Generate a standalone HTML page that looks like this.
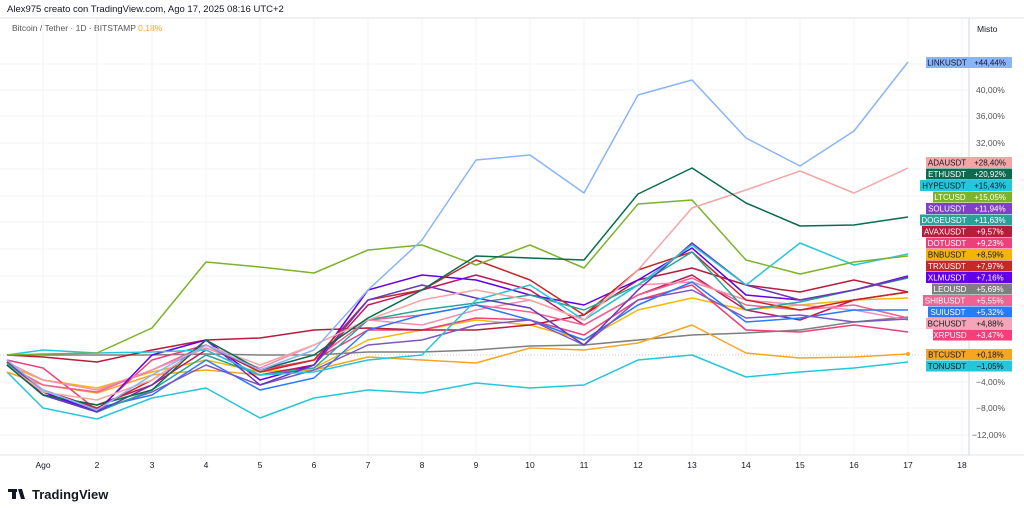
<!DOCTYPE html>
<html><head><meta charset="utf-8"><style>
body{margin:0;background:#fff;font-family:"Liberation Sans",sans-serif;}
svg text{font-family:"Liberation Sans",sans-serif;}
</style></head><body>
<svg width="1024" height="514" xmlns="http://www.w3.org/2000/svg">
<rect width="1024" height="514" fill="#fff"/>
<text x="7" y="12" font-size="9.5" fill="#131722">Alex975 creato con TradingView.com, Ago 17, 2025 08:16 UTC+2</text>
<text x="12" y="31" font-size="8.5" fill="#555">Bitcoin / Tether · 1D · BITSTAMP <tspan fill="#f5a623">0,18%</tspan></text>
<g stroke="#f0f3f7" stroke-width="1">
<line x1="43" y1="18" x2="43" y2="455"/><line x1="97" y1="18" x2="97" y2="455"/><line x1="152" y1="18" x2="152" y2="455"/><line x1="206" y1="18" x2="206" y2="455"/><line x1="260" y1="18" x2="260" y2="455"/><line x1="314" y1="18" x2="314" y2="455"/><line x1="368" y1="18" x2="368" y2="455"/><line x1="422" y1="18" x2="422" y2="455"/><line x1="476" y1="18" x2="476" y2="455"/><line x1="530" y1="18" x2="530" y2="455"/><line x1="584" y1="18" x2="584" y2="455"/><line x1="638" y1="18" x2="638" y2="455"/><line x1="692" y1="18" x2="692" y2="455"/><line x1="746" y1="18" x2="746" y2="455"/><line x1="800" y1="18" x2="800" y2="455"/><line x1="854" y1="18" x2="854" y2="455"/><line x1="908" y1="18" x2="908" y2="455"/><line x1="962" y1="18" x2="962" y2="455"/>
<line x1="0" y1="64" x2="969" y2="64"/><line x1="0" y1="90" x2="969" y2="90"/><line x1="0" y1="116" x2="969" y2="116"/><line x1="0" y1="143" x2="969" y2="143"/><line x1="0" y1="169" x2="969" y2="169"/><line x1="0" y1="196" x2="969" y2="196"/><line x1="0" y1="222" x2="969" y2="222"/><line x1="0" y1="249" x2="969" y2="249"/><line x1="0" y1="276" x2="969" y2="276"/><line x1="0" y1="302" x2="969" y2="302"/><line x1="0" y1="329" x2="969" y2="329"/><line x1="0" y1="382" x2="969" y2="382"/><line x1="0" y1="408" x2="969" y2="408"/><line x1="0" y1="435" x2="969" y2="435"/>
</g>
<line x1="0" y1="355" x2="969" y2="355" stroke="#ccc" stroke-width="1" stroke-dasharray="1,2"/>
<line x1="969" y1="18" x2="969" y2="455" stroke="#d1d4dc"/>
<line x1="0" y1="455" x2="1024" y2="455" stroke="#e0e3eb"/>
<line x1="0" y1="18" x2="1024" y2="18" stroke="#e0e3eb"/>
<text x="977" y="32" font-size="8.5" fill="#131722">Misto</text>
<g font-size="8.5" fill="#555">
<text x="976" y="93">40,00%</text><text x="976" y="119">36,00%</text><text x="976" y="146">32,00%</text><text x="976" y="385">−4,00%</text><text x="976" y="411">−8,00%</text><text x="972" y="438">−12,00%</text>
</g>
<g font-size="8.5" fill="#131722" text-anchor="middle">
<text x="43" y="468">Ago</text><text x="97" y="468">2</text><text x="152" y="468">3</text><text x="206" y="468">4</text><text x="260" y="468">5</text><text x="314" y="468">6</text><text x="368" y="468">7</text><text x="422" y="468">8</text><text x="476" y="468">9</text><text x="530" y="468">10</text><text x="584" y="468">11</text><text x="638" y="468">12</text><text x="692" y="468">13</text><text x="746" y="468">14</text><text x="800" y="468">15</text><text x="854" y="468">16</text><text x="908" y="468">17</text><text x="962" y="468">18</text>
</g>
<g fill="none" stroke-width="1.5" stroke-linejoin="round">
<polyline stroke="#26c6da" points="7,372 43,408 97,419 152,398 206,388 260,418 314,398 368,390 422,393 476,383 530,388 584,385 638,360 692,355 746,377 800,372 854,368 908,362"/>
<polyline stroke="#7f7f7f" points="7,355 43,355 97,355 152,355 206,354 260,355 314,355 368,352 422,352 476,350 530,346 584,345 638,340 692,335 746,333 800,330 854,322 908,317"/>
<polyline stroke="#f5a623" points="7,372 43,385 97,393 152,375 206,370 260,375 314,370 368,357 422,360 476,363 530,348 584,350 638,343 692,325 746,353 800,358 854,357 908,354"/>
<polyline stroke="#f0b90b" points="7,365 43,380 97,388 152,372 206,360 260,372 314,368 368,340 422,330 476,320 530,325 584,340 638,310 692,298 746,310 800,305 854,300 908,298"/>
<polyline stroke="#ec407a" points="7,360 43,368 97,410 152,360 206,345 260,370 314,360 368,330 422,330 476,318 530,320 584,335 638,300 692,285 746,330 800,332 854,325 908,332"/>
<polyline stroke="#b71c3a" points="7,355 43,357 97,362 152,350 206,340 260,338 314,330 368,328 422,330 476,330 530,325 584,315 638,280 692,268 746,285 800,292 854,280 908,292"/>
<polyline stroke="#c2185b" points="7,365 43,395 97,405 152,385 206,350 260,375 314,365 368,305 422,290 476,275 530,290 584,325 638,295 692,275 746,310 800,320 854,300 908,292"/>
<polyline stroke="#f06292" points="7,365 43,385 97,392 152,370 206,345 260,372 314,360 368,320 422,315 476,305 530,312 584,325 638,295 692,278 746,305 800,310 854,305 908,318"/>
<polyline stroke="#f48fb1" points="7,362 43,380 97,390 152,370 206,348 260,368 314,345 368,320 422,325 476,310 530,300 584,320 638,285 692,282 746,300 800,305 854,310 908,320"/>
<polyline stroke="#2979ff" points="7,362 43,395 97,408 152,395 206,360 260,390 314,378 368,330 422,315 476,305 530,320 584,340 638,305 692,282 746,322 800,318 854,310 908,310"/>
<polyline stroke="#7e57c2" points="7,365 43,395 97,410 152,392 206,365 260,385 314,370 368,345 422,340 476,325 530,320 584,345 638,300 692,290 746,318 800,315 854,322 908,319"/>
<polyline stroke="#6200ea" points="7,365 43,392 97,412 152,355 206,340 260,380 314,365 368,290 422,275 476,280 530,295 584,305 638,280 692,248 746,295 800,300 854,290 908,276"/>
<polyline stroke="#c62828" points="7,362 43,390 97,408 152,380 206,345 260,372 314,360 368,300 422,290 476,260 530,280 584,315 638,270 692,252 746,300 800,310 854,300 908,292"/>
<polyline stroke="#26a69a" points="7,363 43,395 97,412 152,390 206,355 260,375 314,368 368,320 422,310 476,303 530,295 584,310 638,285 692,252 746,310 800,302 854,290 908,278"/>
<polyline stroke="#673ab7" points="7,360 43,395 97,412 152,385 206,340 260,385 314,365 368,300 422,285 476,298 530,308 584,345 638,290 692,243 746,285 800,300 854,290 908,277"/>
<polyline stroke="#26c6da" points="7,355 43,350 97,353 152,352 206,350 260,375 314,372 368,360 422,355 476,300 530,285 584,320 638,285 692,245 746,285 800,243 854,265 908,254"/>
<polyline stroke="#7cb32a" points="7,355 43,354 97,353 152,328 206,262 260,267 314,273 368,250 422,245 476,265 530,245 584,268 638,204 692,200 746,260 800,274 854,262 908,256"/>
<polyline stroke="#f4a6a6" points="7,365 43,392 97,400 152,380 206,345 260,365 314,345 368,320 422,300 476,290 530,300 584,320 638,270 692,208 746,190 800,171 854,193 908,168"/>
<polyline stroke="#0b6b4f" points="7,365 43,395 97,405 152,390 206,340 260,370 314,355 368,318 422,290 476,256 530,258 584,260 638,194 692,168 746,203 800,226 854,225 908,217"/>
<polyline stroke="#8ab4f8" points="7,360 43,390 97,410 152,375 206,345 260,370 314,350 368,290 422,240 476,160 530,155 584,193 638,95 692,80 746,138 800,166 854,131 908,62"/>
</g>
<circle cx="908" cy="354" r="2" fill="#f5a623"/>
<g font-size="8" text-anchor="middle">
<g><rect x="926" y="57" width="42" height="11" fill="#8ab4f8"/><rect x="968" y="57" width="44" height="11" fill="#8ab4f8"/><text x="947" y="65.5" fill="#131722">LINKUSDT</text><text x="990" y="65.5" fill="#131722">+44,44%</text></g>
<g><rect x="926" y="157" width="42" height="11" fill="#f4a6a6"/><rect x="968" y="157" width="44" height="11" fill="#f4a6a6"/><text x="947" y="165.5" fill="#131722">ADAUSDT</text><text x="990" y="165.5" fill="#131722">+28,40%</text></g>
<g><rect x="926" y="168.5" width="42" height="11" fill="#0b6b4f"/><rect x="968" y="168.5" width="44" height="11" fill="#0b6b4f"/><text x="947" y="177" fill="#fff">ETHUSDT</text><text x="990" y="177" fill="#fff">+20,92%</text></g>
<g><rect x="920" y="180" width="48" height="11" fill="#26c6da"/><rect x="968" y="180" width="44" height="11" fill="#26c6da"/><text x="944" y="188.5" fill="#131722">HYPEUSDT</text><text x="990" y="188.5" fill="#131722">+15,43%</text></g>
<g><rect x="933" y="191.5" width="35" height="11" fill="#7cb32a"/><rect x="968" y="191.5" width="44" height="11" fill="#7cb32a"/><text x="950" y="200" fill="#fff">LTCUSD</text><text x="990" y="200" fill="#fff">+15,05%</text></g>
<g><rect x="926" y="203" width="42" height="11" fill="#7e3fc9"/><rect x="968" y="203" width="44" height="11" fill="#7e3fc9"/><text x="947" y="211.5" fill="#fff">SOLUSDT</text><text x="990" y="211.5" fill="#fff">+11,94%</text></g>
<g><rect x="920" y="214.5" width="48" height="11" fill="#2aa198"/><rect x="968" y="214.5" width="44" height="11" fill="#2aa198"/><text x="944" y="223" fill="#fff">DOGEUSDT</text><text x="990" y="223" fill="#fff">+11,63%</text></g>
<g><rect x="922" y="226" width="46" height="11" fill="#b71c3a"/><rect x="968" y="226" width="44" height="11" fill="#b71c3a"/><text x="945" y="234.5" fill="#fff">AVAXUSDT</text><text x="990" y="234.5" fill="#fff">+9,57%</text></g>
<g><rect x="926" y="237.5" width="42" height="11" fill="#ec407a"/><rect x="968" y="237.5" width="44" height="11" fill="#ec407a"/><text x="947" y="246" fill="#fff">DOTUSDT</text><text x="990" y="246" fill="#fff">+9,23%</text></g>
<g><rect x="926" y="249" width="42" height="11" fill="#f5b400"/><rect x="968" y="249" width="44" height="11" fill="#f5b400"/><text x="947" y="257.5" fill="#131722">BNBUSDT</text><text x="990" y="257.5" fill="#131722">+8,59%</text></g>
<g><rect x="926" y="260.5" width="42" height="11" fill="#c62828"/><rect x="968" y="260.5" width="44" height="11" fill="#c62828"/><text x="947" y="269" fill="#fff">TRXUSDT</text><text x="990" y="269" fill="#fff">+7,97%</text></g>
<g><rect x="926" y="272" width="42" height="11" fill="#6200ea"/><rect x="968" y="272" width="44" height="11" fill="#6200ea"/><text x="947" y="280.5" fill="#fff">XLMUSDT</text><text x="990" y="280.5" fill="#fff">+7,16%</text></g>
<g><rect x="932" y="283.5" width="36" height="11" fill="#7f7f7f"/><rect x="968" y="283.5" width="44" height="11" fill="#7f7f7f"/><text x="950" y="292" fill="#fff">LEOUSD</text><text x="990" y="292" fill="#fff">+5,69%</text></g>
<g><rect x="923" y="295" width="45" height="11" fill="#f06292"/><rect x="968" y="295" width="44" height="11" fill="#f06292"/><text x="945" y="303.5" fill="#fff">SHIBUSDT</text><text x="990" y="303.5" fill="#fff">+5,55%</text></g>
<g><rect x="928" y="306.5" width="40" height="11" fill="#2979ff"/><rect x="968" y="306.5" width="44" height="11" fill="#2979ff"/><text x="948" y="315" fill="#fff">SUIUSDT</text><text x="990" y="315" fill="#fff">+5,32%</text></g>
<g><rect x="926" y="318" width="42" height="11" fill="#f4a6b8"/><rect x="968" y="318" width="44" height="11" fill="#f4a6b8"/><text x="947" y="326.5" fill="#131722">BCHUSDT</text><text x="990" y="326.5" fill="#131722">+4,88%</text></g>
<g><rect x="933" y="329.5" width="35" height="11" fill="#f73d7a"/><rect x="968" y="329.5" width="44" height="11" fill="#f73d7a"/><text x="950" y="338" fill="#fff">XRPUSD</text><text x="990" y="338" fill="#fff">+3,47%</text></g>
<g><rect x="926" y="349" width="42" height="11" fill="#f5a623"/><rect x="968" y="349" width="44" height="11" fill="#f5a623"/><text x="947" y="357.5" fill="#131722">BTCUSDT</text><text x="990" y="357.5" fill="#131722">+0,18%</text></g>
<g><rect x="926" y="360.5" width="42" height="11" fill="#26c6da"/><rect x="968" y="360.5" width="44" height="11" fill="#26c6da"/><text x="947" y="369" fill="#131722">TONUSDT</text><text x="990" y="369" fill="#131722">−1,05%</text></g>
</g>
<g fill="#131722">
<rect x="8" y="489" width="9" height="3"/><rect x="12" y="489" width="4" height="10"/>
<path d="M18 489 L22 489 L25 499 L21 499 Z"/><circle cx="20" cy="490.5" r="1.5"/>
<text x="32" y="499" font-size="13" font-weight="bold">TradingView</text>
</g>
</svg>
</body></html>
